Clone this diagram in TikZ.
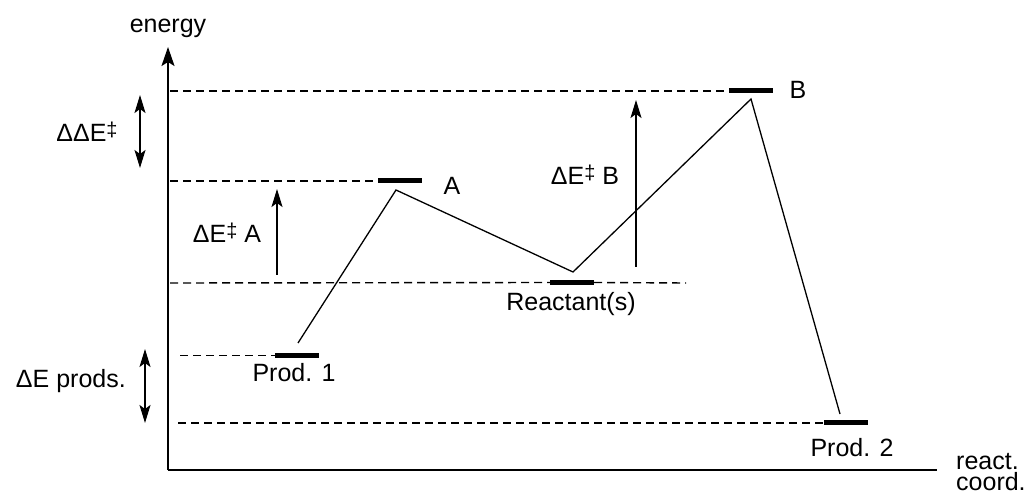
\documentclass[tikz,border=0pt]{standalone}
\usepackage{fontspec}
\setmainfont{Liberation Sans}
\usetikzlibrary{arrows.meta}
\newcommand{\mydd}{\raisebox{4.5pt}{\fontsize{20}{20}\selectfont ‡}}
\begin{document}
\begin{tikzpicture}[x=1pt,y=-1pt,
  lbl/.style={inner sep=0pt,font=\fontsize{25}{28}\selectfont},
  bar/.style={fill=black,draw=none,minimum width=44pt,minimum height=5pt,inner sep=0pt,rectangle},
  level/.style={dashed,dash pattern=on 8pt off 5pt,line width=1.4pt},
  axis/.style={line width=1.8pt},
  path/.style={line width=1.3pt},
  tip/.style={-{Stealth[length=18pt,width=11pt,inset=4pt]},line width=1.4pt},
  dtip/.style={{Stealth[length=18pt,width=11pt,inset=4pt]}-{Stealth[length=18pt,width=11pt,inset=4pt]},line width=1.4pt}]
\useasboundingbox (0,0) rectangle (1029,494);
% axes
\coordinate (O) at (168,470);
\coordinate (ytop) at (168,47);
\coordinate (xend) at (937,470);
\draw[axis,-{Stealth[length=19pt,width=13pt,inset=4pt]}] (O) -- (ytop);
\draw[axis] (O) -- (xend);
\node[lbl] (energy) at (168,28) {energy};
\node[lbl,anchor=base west] (rc1) at (956,470) {react.};
\node[lbl,anchor=base west] (rc2) at (956,490) {coord.};
% bars
\node[bar] (B) at (751,91) {};
\node[bar] (A) at (400,181) {};
\node[bar] (R) at (572,282.5) {};
\node[bar] (P1) at (297,355.5) {};
\node[bar] (P2) at (846,423) {};
% dashed levels
\coordinate (lB) at (170,91);
\coordinate (lA) at (170,181);
\coordinate (lR) at (170,283);
\coordinate (rR) at (686,283);
\coordinate (lP1) at (180,355.5);
\coordinate (lP2) at (178,423);
\draw[level] (lB) -- (B.west);
\draw[level] (lA) -- (A.west);
\draw[level] (lR) -- (R.west);
\draw[level] (R.east) -- (rR);
\draw[level] (lP1) -- (P1.west);
\draw[level] (lP2) -- (P2.west);
% reaction path
\coordinate (p1) at (298,343);
\coordinate (pA) at (396,190);
\coordinate (pR) at (573,272);
\coordinate (pB) at (751,99);
\coordinate (p2) at (840,414);
\draw[path,line join=miter] (p1) -- (pA) -- (pR) -- (pB) -- (p2);
% labels
\node[lbl] (tA) at (452,186) {A};
\node[lbl] (tB) at (798,90) {B};
\node[lbl] (tR) at (571,304) {Reactant(s)};
\node[lbl] (tP1) at (294,373) {Prod. 1};
\node[lbl] (tP2) at (852,448) {Prod. 2};
% energy difference arrows
\coordinate (aA0) at (277,275);
\coordinate (aA1) at (277,189);
\draw[tip] (aA0) -- (aA1);
\node[lbl] (dEA) at (227,233) {ΔE\mydd\ A};
\coordinate (aB0) at (636,267);
\coordinate (aB1) at (636,100);
\draw[tip] (aB0) -- (aB1);
\node[lbl] (dEB) at (585,175) {ΔE\mydd\ B};
\coordinate (dd0) at (140,95);
\coordinate (dd1) at (140,168);
\draw[dtip] (dd0) -- (dd1);
\node[lbl] (ddE) at (87,132) {ΔΔE\mydd};
\coordinate (dp0) at (145,349);
\coordinate (dp1) at (145,423);
\draw[dtip] (dp0) -- (dp1);
\node[lbl,anchor=east] (dEp) at (126,381) {ΔE prods.};
\end{tikzpicture}
\end{document}
